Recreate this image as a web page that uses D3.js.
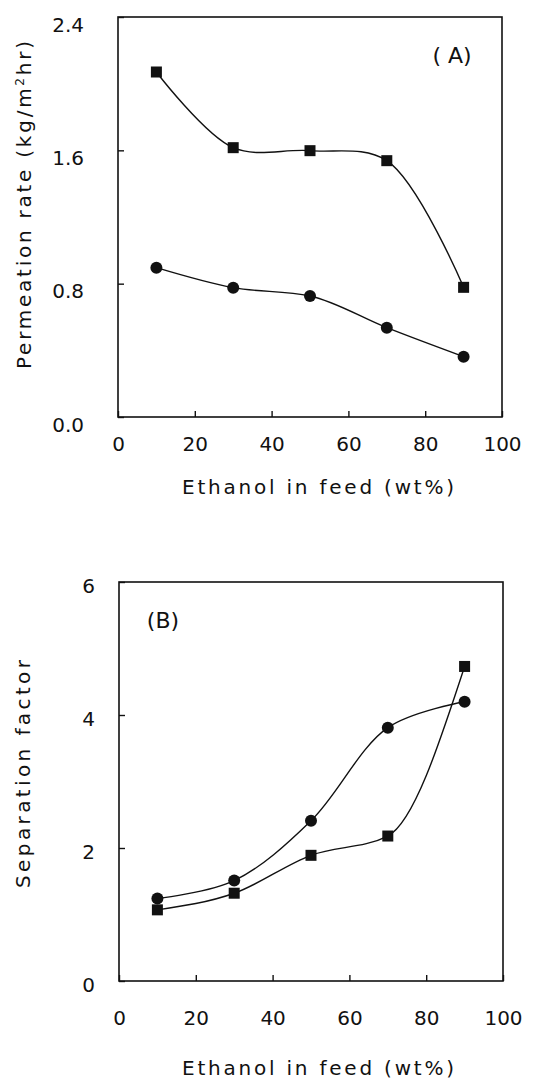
<!DOCTYPE html>
<html>
<head>
<meta charset="utf-8">
<script src="https://cdn.jsdelivr.net/npm/d3@7"></script>
<style>
  html, body { margin: 0; padding: 0; background: #fff; }
  svg { display: block; }
  text { font-family: "DejaVu Sans", sans-serif; fill: #111; }
</style>
</head>
<body>
<svg id="chart" width="553" height="1082"></svg>
<script>
// ---------- data ----------
const ethanol = [10, 30, 50, 70, 90];
const permSquare = [2.07, 1.616, 1.598, 1.538, 0.778];
const permCircle = [0.896, 0.776, 0.726, 0.536, 0.362];
const sepSquare = [1.07, 1.32, 1.89, 2.18, 4.73];
const sepCircle = [1.24, 1.51, 2.41, 3.81, 4.20];
const xTicks = [0, 20, 40, 60, 80, 100];
const permTicks = [0.0, 0.8, 1.6, 2.4];
const sepTicks = [0, 2, 4, 6];

const svg = d3.select("#chart");

function panel(cfg) {
  const x = d3.scaleLinear().domain([0, 100]).range([cfg.left, cfg.right]);
  const y = d3.scaleLinear().domain(cfg.yDomain).range([cfg.bottom, cfg.top]);
  const g = svg.append("g");

  g.append("rect")
    .attr("x", cfg.left).attr("y", cfg.top)
    .attr("width", cfg.right - cfg.left).attr("height", cfg.bottom - cfg.top)
    .attr("fill", "none").attr("stroke", "#111").attr("stroke-width", 1.6);

  const xa = g.append("g").attr("transform", `translate(0,${cfg.bottom})`)
    .call(d3.axisBottom(x).tickValues(xTicks).tickSizeInner(-6).tickSizeOuter(0).tickPadding(cfg.xPad));
  xa.select(".domain").remove();
  xa.selectAll("line").attr("stroke", "#111").attr("stroke-width", 1.4);
  xa.selectAll("text").attr("font-size", 20).attr("font-family", "DejaVu Sans").attr("fill", "#111");

  const ya = g.append("g").attr("transform", `translate(${cfg.left},0)`)
    .call(d3.axisLeft(y).tickValues(cfg.yTicks).tickSizeInner(-6).tickSizeOuter(0)
      .tickPadding(cfg.yPad).tickFormat(cfg.yFmt));
  ya.select(".domain").remove();
  ya.selectAll("line").attr("stroke", "#111").attr("stroke-width", 1.4);
  ya.selectAll("text").attr("font-size", 20).attr("font-family", "DejaVu Sans")
    .attr("fill", "#111").attr("dy", cfg.yDy);

  const pts = s => ethanol.map((e, i) => [x(e), y(s[i])]);
  cfg.series.forEach(s => {
    g.append("path")
      .attr("d", d3.line().curve(s.curve)(pts(s.values)))
      .attr("fill", "none").attr("stroke", "#111").attr("stroke-width", 1.4);
  });
  cfg.series.forEach(s => {
    if (s.shape === "square") {
      g.selectAll(null).data(pts(s.values)).enter().append("rect")
        .attr("x", d => d[0] - 5.5).attr("y", d => d[1] - 5.5)
        .attr("width", 11).attr("height", 11).attr("fill", "#111");
    } else {
      g.selectAll(null).data(pts(s.values)).enter().append("circle")
        .attr("cx", d => d[0]).attr("cy", d => d[1]).attr("r", 6).attr("fill", "#111");
    }
  });

  g.append("text").attr("x", cfg.labelX).attr("y", cfg.labelY)
    .attr("text-anchor", "middle").attr("font-size", 22).text(cfg.label);

  g.append("text").attr("x", 318).attr("y", cfg.xTitleY)
    .attr("text-anchor", "middle").attr("font-size", 20)
    .attr("textLength", 272).attr("lengthAdjust", "spacing")
    .text("Ethanol  in  feed (wt%)");

  const yt = g.append("text")
    .attr("transform", `translate(${cfg.yTitleX},${cfg.yTitleY}) rotate(-90)`)
    .attr("text-anchor", "middle").attr("font-size", 20)
    .attr("textLength", cfg.yTitleLen).attr("lengthAdjust", "spacing");
  cfg.yTitle(yt);
}

panel({
  left: 118, right: 502, top: 17, bottom: 417,
  yDomain: [0, 2.4], yTicks: permTicks, yFmt: d3.format(".1f"),
  xPad: 20, yPad: 34, yDy: "0.7em",
  label: "( A)", labelX: 452, labelY: 63,
  xTitleY: 494,
  yTitleX: 31, yTitleY: 205, yTitleLen: 328,
  yTitle: t => {
    t.append("tspan").text("Permeation  rate  (kg/m");
    t.append("tspan").attr("dy", -7).attr("font-size", 12).text("2");
    t.append("tspan").attr("dy", 7).text("hr)");
  },
  series: [
    { values: permSquare, shape: "square", curve: d3.curveCatmullRom.alpha(0.5) },
    { values: permCircle, shape: "circle", curve: d3.curveMonotoneX }
  ]
});

panel({
  left: 119, right: 503, top: 582, bottom: 981,
  yDomain: [0, 6], yTicks: sepTicks, yFmt: d3.format("d"),
  xPad: 30, yPad: 24, yDy: "0.5em",
  label: "(B)", labelX: 163, labelY: 628,
  xTitleY: 1075,
  yTitleX: 30, yTitleY: 774, yTitleLen: 228,
  yTitle: t => { t.text("Separation  factor"); },
  series: [
    { values: sepSquare, shape: "square", curve: d3.curveMonotoneX },
    { values: sepCircle, shape: "circle", curve: d3.curveCatmullRom.alpha(0.5) }
  ]
});
</script>
</body>
</html>
